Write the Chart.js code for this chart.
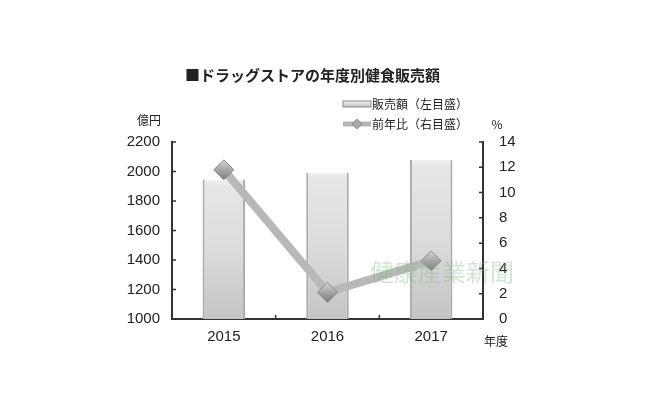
<!DOCTYPE html>
<html>
<head>
<meta charset="utf-8">
<title>ドラッグストアの年度別健食販売額</title>
<script src="https://cdn.jsdelivr.net/npm/chart.js@4.4.0/dist/chart.umd.min.js"></script>
<style>
  html, body { margin: 0; padding: 0; background: #fff; }
  #wrap { width: 660px; height: 400px; position: relative; }
</style>
</head>
<body>
<div id="wrap"><canvas id="chart"></canvas></div>
<script>
const years = ['2015', '2016', '2017']
const sales = [1945, 1990, 2080]      // 億円 (左目盛)
const growth = [11.8, 2.1, 4.6]       // % (右目盛)
const leftTicks = [1000, 1200, 1400, 1600, 1800, 2000, 2200]
const rightTicks = [0, 2, 4, 6, 8, 10, 12, 14]

const titleText = '■ドラッグストアの年度別健食販売額'
const legendSales = '販売額（左目盛）'
const legendGrowth = '前年比（右目盛）'
const watermark = '健康産業新聞'

const jp = '"Noto Sans CJK JP", "Noto Sans", sans-serif'
const num = '"Liberation Sans", Arial, sans-serif'
const CAT_PCT = 0.41

// bar fill: light top fading to darker bottom
function barFill(ctx) {
  const chart = ctx.chart
  const area = chart.chartArea
  if (!area || ctx.type !== 'data') return '#dcdcdc'
  const top = chart.scales.y.getPixelForValue(ctx.raw)
  const g = chart.ctx.createLinearGradient(0, top, 0, area.bottom)
  g.addColorStop(0, '#f2f2f2')
  g.addColorStop(0.04, '#e6e6e6')
  g.addColorStop(0.5, '#dcdcdc')
  g.addColorStop(1, '#c4c4c4')
  return g
}

// diamond fill: light top, darker bottom
function pointFill(ctx) {
  const chart = ctx.chart
  if (!chart.chartArea || ctx.type !== 'data') return '#a8a8a8'
  const p = chart.scales.y1.getPixelForValue(ctx.raw)
  const g = chart.ctx.createLinearGradient(0, p - 10, 0, p + 10)
  g.addColorStop(0, '#d8d8d8')
  g.addColorStop(0.5, '#a6a6a6')
  g.addColorStop(1, '#7e7e7e')
  return g
}

const extras = {
  id: 'extras',
  afterDraw(chart) {
    const c = chart.ctx
    const { left, right, bottom } = chart.chartArea
    const y = chart.scales.y, y1 = chart.scales.y1, x = chart.scales.x
    c.save()
    // inward tick marks
    c.strokeStyle = '#333'
    c.lineWidth = 1.5
    c.beginPath()
    leftTicks.forEach(v => { const p = y.getPixelForValue(v); c.moveTo(left, p); c.lineTo(left + 4, p) })
    rightTicks.forEach(v => { const p = y1.getPixelForValue(v); c.moveTo(right, p); c.lineTo(right - 4, p) })
    for (let i = 1; i < years.length; i++) {
      const p = (x.getPixelForValue(i - 1) + x.getPixelForValue(i)) / 2
      c.moveTo(p, bottom); c.lineTo(p, bottom - 4)
    }
    c.stroke()

    // title
    c.fillStyle = '#222'
    c.textBaseline = 'middle'
    c.textAlign = 'left'
    c.font = 'bold 15px ' + jp
    c.fillText(titleText, 185, 75)

    // legend
    c.font = '12px ' + jp
    c.fillText(legendSales, 372, 104)
    c.fillText(legendGrowth, 372, 124)
    const sg = c.createLinearGradient(0, 101, 0, 107)
    sg.addColorStop(0, '#f4f4f4'); sg.addColorStop(1, '#c0c0c0')
    c.fillStyle = sg
    c.strokeStyle = '#888'
    c.lineWidth = 1
    c.fillRect(343, 101, 28, 6)
    c.strokeRect(343, 101, 28, 6)
    c.strokeStyle = '#b5b5b5'
    c.lineWidth = 5
    c.beginPath(); c.moveTo(343, 124); c.lineTo(371, 124); c.stroke()
    c.fillStyle = '#aaa'
    c.strokeStyle = '#888'
    c.lineWidth = 1
    c.beginPath()
    c.moveTo(357, 119); c.lineTo(362, 124); c.lineTo(357, 129); c.lineTo(352, 124); c.closePath()
    c.fill(); c.stroke()

    // axis titles
    c.fillStyle = '#222'
    c.font = '12px ' + jp
    c.textAlign = 'center'
    c.fillText('億円', 149, 120)
    c.fillText('%', 497, 124)
    c.fillText('年度', 496, 341)

    // watermark
    c.fillStyle = 'rgba(120, 190, 120, 0.35)'
    c.font = '24px ' + jp
    c.textAlign = 'left'
    c.fillText(watermark, 370, 272)
    c.restore()
  }
}

const plain = v => String(v)

new Chart('chart', {
  data: {
    labels: years,
    datasets: [
      {
        type: 'line',
        label: legendGrowth,
        data: growth,
        yAxisID: 'y1',
        borderColor: '#b8b8b8',
        borderWidth: 8,
        tension: 0,
        pointStyle: 'rectRot',
        pointRadius: 10,
        pointBackgroundColor: pointFill,
        pointBorderColor: '#8a8a8a',
        pointBorderWidth: 1,
        order: 0,
      },
      {
        type: 'bar',
        label: legendSales,
        data: sales,
        yAxisID: 'y',
        backgroundColor: barFill,
        borderColor: '#a9a9a9',
        borderWidth: { left: 2, right: 2, top: 0, bottom: 0 },
        borderSkipped: false,
        barPercentage: 1,
        categoryPercentage: CAT_PCT,
        order: 1,
      },
    ],
  },
  options: {
    responsive: true,
    maintainAspectRatio: false,
    animation: false,
    layout: { padding: { top: 142, left: 0, right: 0, bottom: 0 } },
    plugins: {
      legend: { display: false },
      title: { display: false },
      tooltip: { enabled: false },
    },
    scales: {
      x: {
        grid: { display: false },
        border: { color: '#333', width: 2 },
        ticks: { color: '#222', font: { family: num, size: 15 }, padding: 1 },
        afterFit: s => { s.height = 81 },
      },
      y: {
        position: 'left',
        min: 1000,
        max: 2200,
        afterBuildTicks: s => { s.ticks = leftTicks.map(v => ({ value: v })) },
        grid: { display: false },
        border: { color: '#333', width: 2 },
        ticks: { color: '#222', font: { family: num, size: 15 }, padding: 4, callback: plain },
        afterFit: s => { s.width = 172 },
      },
      y1: {
        position: 'right',
        min: 0,
        max: 14,
        afterBuildTicks: s => { s.ticks = rightTicks.map(v => ({ value: v })) },
        grid: { display: false },
        border: { color: '#333', width: 2 },
        ticks: { color: '#222', font: { family: num, size: 15 }, padding: 8, callback: plain },
        afterFit: s => { s.width = 177 },
      },
    },
  },
  plugins: [extras],
})
</script>
</body>
</html>
